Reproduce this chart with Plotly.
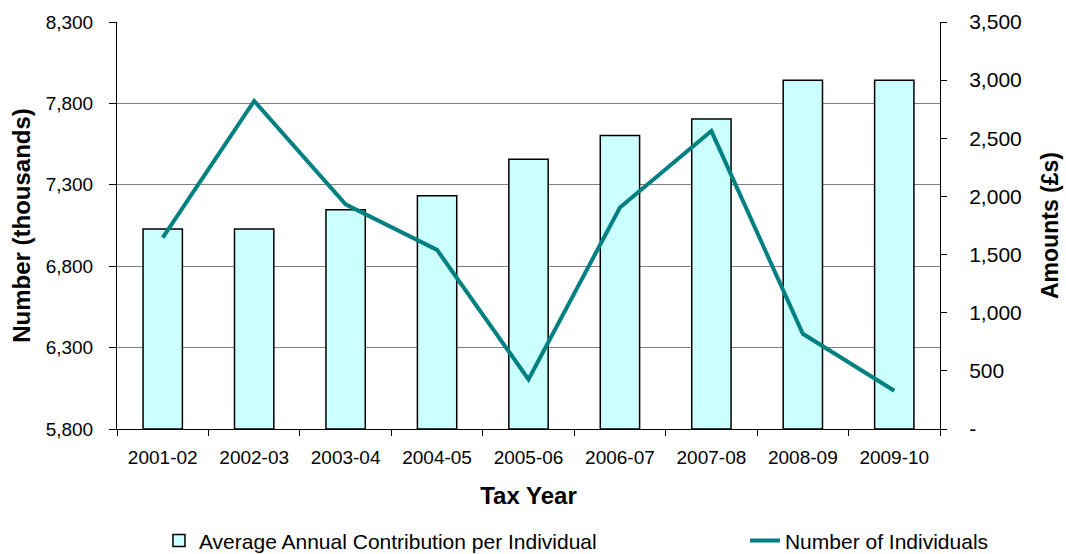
import plotly.graph_objects as go

# Tax years
years = ["2001-02", "2002-03", "2003-04", "2004-05", "2005-06",
         "2006-07", "2007-08", "2008-09", "2009-10"]

# Average annual contribution per individual (£s), right axis
avg_contribution = [1720, 1720, 1885, 2005, 2320, 2525, 2665, 3000, 3000]

# Number of individuals (thousands), left axis
num_individuals = [6975, 7815, 7180, 6900, 6105, 7160, 7630, 6385, 6035]

# Axis tick labels
left_ticks = [5800, 6300, 6800, 7300, 7800, 8300]
left_ticktext = ["5,800", "6,300", "6,800", "7,300", "7,800", "8,300"]
right_ticks = [0, 500, 1000, 1500, 2000, 2500, 3000, 3500]
right_ticktext = ["-", "500", "1,000", "1,500", "2,000", "2,500", "3,000", "3,500"]

FONT = "Liberation Sans, Arial, sans-serif"
BLACK = "#000000"

fig = go.Figure()

fig.add_trace(go.Bar(
    x=years, y=avg_contribution,
    name="Average Annual Contribution per Individual",
    marker=dict(color="#CCFFFF", line=dict(color=BLACK, width=1.5)),
    yaxis="y",
    legend="legend",
))

fig.add_trace(go.Scatter(
    x=years, y=num_individuals,
    name="Number of Individuals",
    mode="lines",
    line=dict(color="#008080", width=4),
    yaxis="y2",
    legend="legend2",
))

legend_common = dict(
    orientation="h", yanchor="middle", xanchor="left", y=-0.275,
    font=dict(family=FONT, size=21, color=BLACK),
    bgcolor="rgba(0,0,0,0)",
)

fig.update_layout(
    width=1066, height=554,
    margin=dict(l=117, r=126, t=22, b=125, autoexpand=False),
    plot_bgcolor="white", paper_bgcolor="white",
    bargap=0.57,
    showlegend=True,
    legend=dict(x=0.051, **legend_common),
    legend2=dict(x=0.763, **legend_common),
    xaxis=dict(
        type="category",
        showline=True, linecolor=BLACK, linewidth=1,
        ticks="outside", ticklen=6, tickcolor=BLACK, tickson="boundaries",
        ticklabelstandoff=11,
        tickfont=dict(family=FONT, size=19, color=BLACK),
        title=dict(text="<b>Tax Year</b>", font=dict(family=FONT, size=24, color=BLACK),
                   standoff=20),
        showgrid=False,
    ),
    yaxis=dict(
        side="right", range=[0, 3500],
        tickvals=right_ticks, ticktext=right_ticktext,
        showline=True, linecolor=BLACK, linewidth=1,
        ticks="outside", ticklen=6, tickcolor=BLACK,
        ticklabelstandoff=18,
        tickfont=dict(family=FONT, size=21, color=BLACK),
        title=dict(text="<b>Amounts (£s)</b>", font=dict(family=FONT, size=23, color=BLACK),
                   standoff=21),
        showgrid=False, zeroline=False,
    ),
    yaxis2=dict(
        side="left", overlaying="y", range=[5800, 8300],
        tickvals=left_ticks, ticktext=left_ticktext,
        showline=True, linecolor=BLACK, linewidth=1,
        ticks="outside", ticklen=7, tickcolor=BLACK,
        ticklabelstandoff=12,
        tickfont=dict(family=FONT, size=19, color=BLACK),
        title=dict(text="<b>Number (thousands)</b>", font=dict(family=FONT, size=24, color=BLACK),
                   standoff=8),
        showgrid=True, gridcolor="#808080", gridwidth=1,
        zeroline=False,
    ),
)

fig.write_html("out.html")
